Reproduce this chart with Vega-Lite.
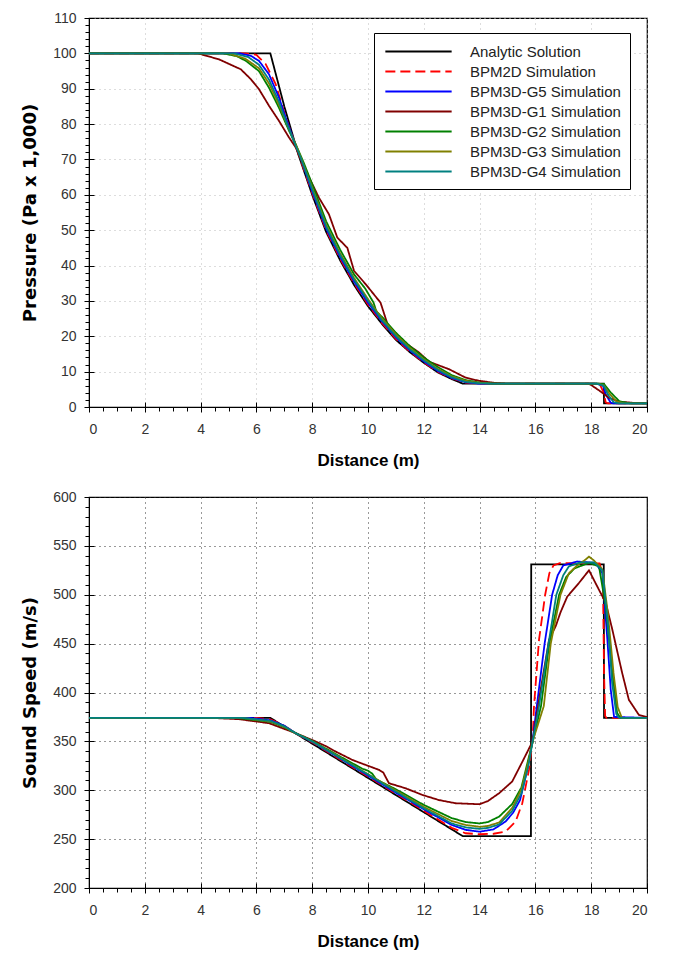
{
 "$schema": "https://vega.github.io/schema/vega-lite/v6.json",
 "background": "white",
 "padding": {"left": 21, "top": 10, "right": 5, "bottom": 5},
 "spacing": 20,
 "config": {
  "font": "Liberation Sans",
  "view": {"stroke": "#000", "strokeWidth": 1.2},
  "axis": {"labelFont": "Liberation Sans", "labelFontSize": 14, "labelColor": "#333", "titleFont": "Liberation Sans", "titleFontSize": 17, "titleFontWeight": "bold", "titleColor": "#000", "domainColor": "#000", "tickColor": "#000", "tickSize": 5, "labelPadding": 8, "gridDash": [1, 4]},
  "axisX": {"titlePadding": 16, "labelPadding": 10},
  "axisY": {"titlePadding": 13, "titleFont": "DejaVu Sans", "titleFontSize": 18},
  "line": {"strokeWidth": 1.8}
 },
 "datasets": {
  "pressure": [
   {"s":"Analytic Solution","x":0,"y":100},{"s":"Analytic Solution","x":6.5,"y":100},{"s":"Analytic Solution","x":7,"y":85},{"s":"Analytic Solution","x":7.5,"y":71.5},{"s":"Analytic Solution","x":8,"y":60},{"s":"Analytic Solution","x":8.5,"y":49.5},{"s":"Analytic Solution","x":9,"y":41.5},{"s":"Analytic Solution","x":9.5,"y":34.5},{"s":"Analytic Solution","x":10,"y":28.5},{"s":"Analytic Solution","x":10.5,"y":23.5},{"s":"Analytic Solution","x":11,"y":19},{"s":"Analytic Solution","x":11.5,"y":15.5},{"s":"Analytic Solution","x":12,"y":12.5},{"s":"Analytic Solution","x":12.5,"y":9.8},{"s":"Analytic Solution","x":13,"y":7.9},{"s":"Analytic Solution","x":13.4,"y":6.6},{"s":"Analytic Solution","x":18.45,"y":6.6},{"s":"Analytic Solution","x":18.46,"y":1},{"s":"Analytic Solution","x":20,"y":1},
   {"s":"BPM2D Simulation","x":0,"y":100},{"s":"BPM2D Simulation","x":5.6,"y":100},{"s":"BPM2D Simulation","x":6.0,"y":99.6},{"s":"BPM2D Simulation","x":6.33,"y":97},{"s":"BPM2D Simulation","x":6.69,"y":91.3},{"s":"BPM2D Simulation","x":6.93,"y":85},{"s":"BPM2D Simulation","x":7.2,"y":78.5},{"s":"BPM2D Simulation","x":7.5,"y":71.8},{"s":"BPM2D Simulation","x":8,"y":60.5},{"s":"BPM2D Simulation","x":8.5,"y":50},{"s":"BPM2D Simulation","x":9,"y":42},{"s":"BPM2D Simulation","x":9.5,"y":35},{"s":"BPM2D Simulation","x":10,"y":29},{"s":"BPM2D Simulation","x":10.5,"y":23.8},{"s":"BPM2D Simulation","x":11,"y":19.3},{"s":"BPM2D Simulation","x":11.5,"y":15.7},{"s":"BPM2D Simulation","x":12,"y":12.6},{"s":"BPM2D Simulation","x":12.5,"y":10},{"s":"BPM2D Simulation","x":13,"y":8.1},{"s":"BPM2D Simulation","x":13.5,"y":6.9},{"s":"BPM2D Simulation","x":14,"y":6.6},{"s":"BPM2D Simulation","x":18.3,"y":6.6},{"s":"BPM2D Simulation","x":18.45,"y":4},{"s":"BPM2D Simulation","x":18.52,"y":1.3},{"s":"BPM2D Simulation","x":18.6,"y":1},{"s":"BPM2D Simulation","x":20,"y":1},
   {"s":"BPM3D-G5 Simulation","x":0,"y":100},{"s":"BPM3D-G5 Simulation","x":5.4,"y":100},{"s":"BPM3D-G5 Simulation","x":5.8,"y":99.3},{"s":"BPM3D-G5 Simulation","x":6.09,"y":97.9},{"s":"BPM3D-G5 Simulation","x":6.45,"y":94.1},{"s":"BPM3D-G5 Simulation","x":6.81,"y":87.5},{"s":"BPM3D-G5 Simulation","x":7.05,"y":81.8},{"s":"BPM3D-G5 Simulation","x":7.35,"y":75.2},{"s":"BPM3D-G5 Simulation","x":7.6,"y":70},{"s":"BPM3D-G5 Simulation","x":8,"y":61},{"s":"BPM3D-G5 Simulation","x":8.5,"y":50.5},{"s":"BPM3D-G5 Simulation","x":9,"y":42.5},{"s":"BPM3D-G5 Simulation","x":9.5,"y":35.5},{"s":"BPM3D-G5 Simulation","x":10,"y":29.5},{"s":"BPM3D-G5 Simulation","x":10.5,"y":24.2},{"s":"BPM3D-G5 Simulation","x":11,"y":19.7},{"s":"BPM3D-G5 Simulation","x":11.5,"y":16},{"s":"BPM3D-G5 Simulation","x":12,"y":12.9},{"s":"BPM3D-G5 Simulation","x":12.5,"y":10.2},{"s":"BPM3D-G5 Simulation","x":13,"y":8.2},{"s":"BPM3D-G5 Simulation","x":13.5,"y":7},{"s":"BPM3D-G5 Simulation","x":14,"y":6.6},{"s":"BPM3D-G5 Simulation","x":18.2,"y":6.6},{"s":"BPM3D-G5 Simulation","x":18.43,"y":6},{"s":"BPM3D-G5 Simulation","x":18.52,"y":3.6},{"s":"BPM3D-G5 Simulation","x":18.7,"y":1.2},{"s":"BPM3D-G5 Simulation","x":18.8,"y":1},{"s":"BPM3D-G5 Simulation","x":20,"y":1},
   {"s":"BPM3D-G1 Simulation","x":0,"y":100},{"s":"BPM3D-G1 Simulation","x":3.9,"y":100},{"s":"BPM3D-G1 Simulation","x":4.66,"y":98.3},{"s":"BPM3D-G1 Simulation","x":5.44,"y":95.5},{"s":"BPM3D-G1 Simulation","x":5.8,"y":92.7},{"s":"BPM3D-G1 Simulation","x":6.09,"y":89.9},{"s":"BPM3D-G1 Simulation","x":6.45,"y":85.2},{"s":"BPM3D-G1 Simulation","x":6.81,"y":80.9},{"s":"BPM3D-G1 Simulation","x":7.17,"y":76.2},{"s":"BPM3D-G1 Simulation","x":7.41,"y":73.4},{"s":"BPM3D-G1 Simulation","x":7.7,"y":68},{"s":"BPM3D-G1 Simulation","x":8.24,"y":59.2},{"s":"BPM3D-G1 Simulation","x":8.6,"y":54.5},{"s":"BPM3D-G1 Simulation","x":8.9,"y":47.9},{"s":"BPM3D-G1 Simulation","x":9.26,"y":45},{"s":"BPM3D-G1 Simulation","x":9.5,"y":38.5},{"s":"BPM3D-G1 Simulation","x":9.92,"y":34.7},{"s":"BPM3D-G1 Simulation","x":10.45,"y":29.5},{"s":"BPM3D-G1 Simulation","x":10.7,"y":23.4},{"s":"BPM3D-G1 Simulation","x":11.23,"y":18.7},{"s":"BPM3D-G1 Simulation","x":11.83,"y":15.4},{"s":"BPM3D-G1 Simulation","x":12.19,"y":12.8},{"s":"BPM3D-G1 Simulation","x":12.9,"y":10.7},{"s":"BPM3D-G1 Simulation","x":13.5,"y":8.3},{"s":"BPM3D-G1 Simulation","x":13.98,"y":7.4},{"s":"BPM3D-G1 Simulation","x":14.58,"y":6.8},{"s":"BPM3D-G1 Simulation","x":15,"y":6.6},{"s":"BPM3D-G1 Simulation","x":17.9,"y":6.6},{"s":"BPM3D-G1 Simulation","x":18.0,"y":6.2},{"s":"BPM3D-G1 Simulation","x":18.28,"y":4.7},{"s":"BPM3D-G1 Simulation","x":18.64,"y":2.6},{"s":"BPM3D-G1 Simulation","x":19.0,"y":1.5},{"s":"BPM3D-G1 Simulation","x":19.47,"y":1.2},{"s":"BPM3D-G1 Simulation","x":20,"y":1},
   {"s":"BPM3D-G2 Simulation","x":0,"y":100},{"s":"BPM3D-G2 Simulation","x":4.8,"y":100},{"s":"BPM3D-G2 Simulation","x":5.3,"y":99.2},{"s":"BPM3D-G2 Simulation","x":5.62,"y":97.9},{"s":"BPM3D-G2 Simulation","x":6.09,"y":95},{"s":"BPM3D-G2 Simulation","x":6.45,"y":90.3},{"s":"BPM3D-G2 Simulation","x":6.81,"y":84.6},{"s":"BPM3D-G2 Simulation","x":7.17,"y":78.1},{"s":"BPM3D-G2 Simulation","x":7.41,"y":74.3},{"s":"BPM3D-G2 Simulation","x":7.7,"y":69},{"s":"BPM3D-G2 Simulation","x":8,"y":63},{"s":"BPM3D-G2 Simulation","x":8.5,"y":52.5},{"s":"BPM3D-G2 Simulation","x":9,"y":44.5},{"s":"BPM3D-G2 Simulation","x":9.5,"y":37.5},{"s":"BPM3D-G2 Simulation","x":9.9,"y":33.5},{"s":"BPM3D-G2 Simulation","x":10.2,"y":29.5},{"s":"BPM3D-G2 Simulation","x":10.3,"y":27},{"s":"BPM3D-G2 Simulation","x":10.5,"y":25.5},{"s":"BPM3D-G2 Simulation","x":11,"y":21},{"s":"BPM3D-G2 Simulation","x":11.5,"y":17.2},{"s":"BPM3D-G2 Simulation","x":12,"y":14},{"s":"BPM3D-G2 Simulation","x":12.5,"y":11.3},{"s":"BPM3D-G2 Simulation","x":13,"y":9},{"s":"BPM3D-G2 Simulation","x":13.5,"y":7.6},{"s":"BPM3D-G2 Simulation","x":14,"y":6.9},{"s":"BPM3D-G2 Simulation","x":14.5,"y":6.6},{"s":"BPM3D-G2 Simulation","x":18.2,"y":6.6},{"s":"BPM3D-G2 Simulation","x":18.46,"y":6.5},{"s":"BPM3D-G2 Simulation","x":18.7,"y":4.1},{"s":"BPM3D-G2 Simulation","x":19.0,"y":1.7},{"s":"BPM3D-G2 Simulation","x":19.3,"y":1.1},{"s":"BPM3D-G2 Simulation","x":19.5,"y":1},{"s":"BPM3D-G2 Simulation","x":20,"y":1},
   {"s":"BPM3D-G3 Simulation","x":0,"y":100},{"s":"BPM3D-G3 Simulation","x":5.0,"y":100},{"s":"BPM3D-G3 Simulation","x":5.6,"y":98.5},{"s":"BPM3D-G3 Simulation","x":6.09,"y":95.8},{"s":"BPM3D-G3 Simulation","x":6.45,"y":91.5},{"s":"BPM3D-G3 Simulation","x":6.81,"y":85.5},{"s":"BPM3D-G3 Simulation","x":7.17,"y":78.5},{"s":"BPM3D-G3 Simulation","x":7.5,"y":72.5},{"s":"BPM3D-G3 Simulation","x":8,"y":62},{"s":"BPM3D-G3 Simulation","x":8.5,"y":51.5},{"s":"BPM3D-G3 Simulation","x":9,"y":43.5},{"s":"BPM3D-G3 Simulation","x":9.5,"y":36.5},{"s":"BPM3D-G3 Simulation","x":10,"y":30.5},{"s":"BPM3D-G3 Simulation","x":10.5,"y":25},{"s":"BPM3D-G3 Simulation","x":11,"y":20.5},{"s":"BPM3D-G3 Simulation","x":11.5,"y":16.7},{"s":"BPM3D-G3 Simulation","x":12,"y":13.5},{"s":"BPM3D-G3 Simulation","x":12.5,"y":10.8},{"s":"BPM3D-G3 Simulation","x":13,"y":8.7},{"s":"BPM3D-G3 Simulation","x":13.5,"y":7.4},{"s":"BPM3D-G3 Simulation","x":14,"y":6.8},{"s":"BPM3D-G3 Simulation","x":14.5,"y":6.6},{"s":"BPM3D-G3 Simulation","x":18.2,"y":6.6},{"s":"BPM3D-G3 Simulation","x":18.45,"y":6.2},{"s":"BPM3D-G3 Simulation","x":18.65,"y":3.8},{"s":"BPM3D-G3 Simulation","x":18.9,"y":1.6},{"s":"BPM3D-G3 Simulation","x":19.2,"y":1},{"s":"BPM3D-G3 Simulation","x":20,"y":1},
   {"s":"BPM3D-G4 Simulation","x":0,"y":100},{"s":"BPM3D-G4 Simulation","x":5.2,"y":100},{"s":"BPM3D-G4 Simulation","x":5.7,"y":99},{"s":"BPM3D-G4 Simulation","x":6.09,"y":96.8},{"s":"BPM3D-G4 Simulation","x":6.45,"y":92.6},{"s":"BPM3D-G4 Simulation","x":6.81,"y":86.3},{"s":"BPM3D-G4 Simulation","x":7.1,"y":80},{"s":"BPM3D-G4 Simulation","x":7.4,"y":74},{"s":"BPM3D-G4 Simulation","x":7.6,"y":70.2},{"s":"BPM3D-G4 Simulation","x":8,"y":61.5},{"s":"BPM3D-G4 Simulation","x":8.5,"y":51},{"s":"BPM3D-G4 Simulation","x":9,"y":43},{"s":"BPM3D-G4 Simulation","x":9.5,"y":36},{"s":"BPM3D-G4 Simulation","x":10,"y":30},{"s":"BPM3D-G4 Simulation","x":10.5,"y":24.5},{"s":"BPM3D-G4 Simulation","x":11,"y":20},{"s":"BPM3D-G4 Simulation","x":11.5,"y":16.3},{"s":"BPM3D-G4 Simulation","x":12,"y":13.2},{"s":"BPM3D-G4 Simulation","x":12.5,"y":10.5},{"s":"BPM3D-G4 Simulation","x":13,"y":8.4},{"s":"BPM3D-G4 Simulation","x":13.5,"y":7.1},{"s":"BPM3D-G4 Simulation","x":14,"y":6.7},{"s":"BPM3D-G4 Simulation","x":14.5,"y":6.6},{"s":"BPM3D-G4 Simulation","x":18.2,"y":6.6},{"s":"BPM3D-G4 Simulation","x":18.45,"y":6},{"s":"BPM3D-G4 Simulation","x":18.6,"y":3.5},{"s":"BPM3D-G4 Simulation","x":18.8,"y":1.4},{"s":"BPM3D-G4 Simulation","x":19,"y":1},{"s":"BPM3D-G4 Simulation","x":20,"y":1}
  ],
  "speed": [
   {"s":"Analytic Solution","x":0,"y":374},{"s":"Analytic Solution","x":6.5,"y":374},{"s":"Analytic Solution","x":13.4,"y":253},{"s":"Analytic Solution","x":15.84,"y":253},{"s":"Analytic Solution","x":15.85,"y":531},{"s":"Analytic Solution","x":18.45,"y":531},{"s":"Analytic Solution","x":18.46,"y":374},{"s":"Analytic Solution","x":20,"y":374},
   {"s":"BPM2D Simulation","x":0,"y":374},{"s":"BPM2D Simulation","x":6.0,"y":374},{"s":"BPM2D Simulation","x":6.5,"y":372.5},{"s":"BPM2D Simulation","x":7,"y":366},{"s":"BPM2D Simulation","x":7.4,"y":358.5},{"s":"BPM2D Simulation","x":8,"y":349},{"s":"BPM2D Simulation","x":9,"y":331.5},{"s":"BPM2D Simulation","x":10,"y":314},{"s":"BPM2D Simulation","x":11,"y":296.5},{"s":"BPM2D Simulation","x":12,"y":279},{"s":"BPM2D Simulation","x":13,"y":261.5},{"s":"BPM2D Simulation","x":13.5,"y":256},{"s":"BPM2D Simulation","x":14,"y":255},{"s":"BPM2D Simulation","x":14.5,"y":255.5},{"s":"BPM2D Simulation","x":14.93,"y":257.6},{"s":"BPM2D Simulation","x":15.29,"y":268},{"s":"BPM2D Simulation","x":15.53,"y":286.7},{"s":"BPM2D Simulation","x":15.77,"y":320.8},{"s":"BPM2D Simulation","x":15.9,"y":351},{"s":"BPM2D Simulation","x":15.95,"y":386},{"s":"BPM2D Simulation","x":16.13,"y":454},{"s":"BPM2D Simulation","x":16.35,"y":500},{"s":"BPM2D Simulation","x":16.5,"y":522},{"s":"BPM2D Simulation","x":16.65,"y":530},{"s":"BPM2D Simulation","x":16.9,"y":532.5},{"s":"BPM2D Simulation","x":18.3,"y":532},{"s":"BPM2D Simulation","x":18.42,"y":520},{"s":"BPM2D Simulation","x":18.46,"y":420},{"s":"BPM2D Simulation","x":18.5,"y":376},{"s":"BPM2D Simulation","x":18.55,"y":374},{"s":"BPM2D Simulation","x":20,"y":374},
   {"s":"BPM3D-G5 Simulation","x":0,"y":374},{"s":"BPM3D-G5 Simulation","x":5.8,"y":374},{"s":"BPM3D-G5 Simulation","x":6.5,"y":371.5},{"s":"BPM3D-G5 Simulation","x":7,"y":366},{"s":"BPM3D-G5 Simulation","x":7.4,"y":358.5},{"s":"BPM3D-G5 Simulation","x":8,"y":349.5},{"s":"BPM3D-G5 Simulation","x":9,"y":332.5},{"s":"BPM3D-G5 Simulation","x":10,"y":315},{"s":"BPM3D-G5 Simulation","x":11,"y":297.5},{"s":"BPM3D-G5 Simulation","x":12,"y":280.5},{"s":"BPM3D-G5 Simulation","x":13,"y":264.5},{"s":"BPM3D-G5 Simulation","x":13.5,"y":259.5},{"s":"BPM3D-G5 Simulation","x":14,"y":257.6},{"s":"BPM3D-G5 Simulation","x":14.5,"y":260},{"s":"BPM3D-G5 Simulation","x":14.93,"y":268},{"s":"BPM3D-G5 Simulation","x":15.2,"y":277},{"s":"BPM3D-G5 Simulation","x":15.45,"y":290},{"s":"BPM3D-G5 Simulation","x":15.65,"y":314},{"s":"BPM3D-G5 Simulation","x":15.9,"y":351},{"s":"BPM3D-G5 Simulation","x":16.05,"y":386},{"s":"BPM3D-G5 Simulation","x":16.33,"y":450},{"s":"BPM3D-G5 Simulation","x":16.6,"y":500},{"s":"BPM3D-G5 Simulation","x":16.8,"y":520},{"s":"BPM3D-G5 Simulation","x":17.0,"y":530},{"s":"BPM3D-G5 Simulation","x":17.5,"y":534},{"s":"BPM3D-G5 Simulation","x":18.16,"y":532.5},{"s":"BPM3D-G5 Simulation","x":18.4,"y":522},{"s":"BPM3D-G5 Simulation","x":18.58,"y":454},{"s":"BPM3D-G5 Simulation","x":18.7,"y":403},{"s":"BPM3D-G5 Simulation","x":18.82,"y":375},{"s":"BPM3D-G5 Simulation","x":20,"y":374},
   {"s":"BPM3D-G1 Simulation","x":0,"y":374},{"s":"BPM3D-G1 Simulation","x":4.4,"y":374},{"s":"BPM3D-G1 Simulation","x":5.38,"y":372.7},{"s":"BPM3D-G1 Simulation","x":6.45,"y":368.6},{"s":"BPM3D-G1 Simulation","x":7.41,"y":358.4},{"s":"BPM3D-G1 Simulation","x":8.13,"y":349.8},{"s":"BPM3D-G1 Simulation","x":8.5,"y":345},{"s":"BPM3D-G1 Simulation","x":8.84,"y":339.6},{"s":"BPM3D-G1 Simulation","x":9.44,"y":331},{"s":"BPM3D-G1 Simulation","x":10.0,"y":325},{"s":"BPM3D-G1 Simulation","x":10.4,"y":320.8},{"s":"BPM3D-G1 Simulation","x":10.55,"y":318},{"s":"BPM3D-G1 Simulation","x":10.75,"y":307.2},{"s":"BPM3D-G1 Simulation","x":11.35,"y":302},{"s":"BPM3D-G1 Simulation","x":11.95,"y":295.2},{"s":"BPM3D-G1 Simulation","x":12.54,"y":290},{"s":"BPM3D-G1 Simulation","x":13.14,"y":286.7},{"s":"BPM3D-G1 Simulation","x":14.0,"y":285.7},{"s":"BPM3D-G1 Simulation","x":14.3,"y":289},{"s":"BPM3D-G1 Simulation","x":14.7,"y":297},{"s":"BPM3D-G1 Simulation","x":15.17,"y":309},{"s":"BPM3D-G1 Simulation","x":15.53,"y":329},{"s":"BPM3D-G1 Simulation","x":15.9,"y":350},{"s":"BPM3D-G1 Simulation","x":16.2,"y":405},{"s":"BPM3D-G1 Simulation","x":16.49,"y":454},{"s":"BPM3D-G1 Simulation","x":16.73,"y":468},{"s":"BPM3D-G1 Simulation","x":16.9,"y":482},{"s":"BPM3D-G1 Simulation","x":17.14,"y":498},{"s":"BPM3D-G1 Simulation","x":17.56,"y":512},{"s":"BPM3D-G1 Simulation","x":17.92,"y":525},{"s":"BPM3D-G1 Simulation","x":18.1,"y":515},{"s":"BPM3D-G1 Simulation","x":18.28,"y":505},{"s":"BPM3D-G1 Simulation","x":18.52,"y":492},{"s":"BPM3D-G1 Simulation","x":18.76,"y":464},{"s":"BPM3D-G1 Simulation","x":19.11,"y":420},{"s":"BPM3D-G1 Simulation","x":19.35,"y":392.5},{"s":"BPM3D-G1 Simulation","x":19.71,"y":377},{"s":"BPM3D-G1 Simulation","x":20,"y":375},
   {"s":"BPM3D-G2 Simulation","x":0,"y":374},{"s":"BPM3D-G2 Simulation","x":5.3,"y":374},{"s":"BPM3D-G2 Simulation","x":6.5,"y":370},{"s":"BPM3D-G2 Simulation","x":7,"y":364.5},{"s":"BPM3D-G2 Simulation","x":7.4,"y":358.5},{"s":"BPM3D-G2 Simulation","x":8,"y":350.5},{"s":"BPM3D-G2 Simulation","x":9,"y":334.5},{"s":"BPM3D-G2 Simulation","x":9.8,"y":322},{"s":"BPM3D-G2 Simulation","x":10.0,"y":320},{"s":"BPM3D-G2 Simulation","x":10.15,"y":317},{"s":"BPM3D-G2 Simulation","x":10.3,"y":311},{"s":"BPM3D-G2 Simulation","x":11,"y":301},{"s":"BPM3D-G2 Simulation","x":12,"y":285},{"s":"BPM3D-G2 Simulation","x":13,"y":271.5},{"s":"BPM3D-G2 Simulation","x":13.5,"y":267.5},{"s":"BPM3D-G2 Simulation","x":14,"y":266},{"s":"BPM3D-G2 Simulation","x":14.3,"y":267.5},{"s":"BPM3D-G2 Simulation","x":14.7,"y":273},{"s":"BPM3D-G2 Simulation","x":15.17,"y":286},{"s":"BPM3D-G2 Simulation","x":15.5,"y":303},{"s":"BPM3D-G2 Simulation","x":15.75,"y":332},{"s":"BPM3D-G2 Simulation","x":15.9,"y":349},{"s":"BPM3D-G2 Simulation","x":16.2,"y":386},{"s":"BPM3D-G2 Simulation","x":16.5,"y":450},{"s":"BPM3D-G2 Simulation","x":16.85,"y":500},{"s":"BPM3D-G2 Simulation","x":17.1,"y":518},{"s":"BPM3D-G2 Simulation","x":17.4,"y":527},{"s":"BPM3D-G2 Simulation","x":17.92,"y":532.6},{"s":"BPM3D-G2 Simulation","x":18.28,"y":529},{"s":"BPM3D-G2 Simulation","x":18.52,"y":488},{"s":"BPM3D-G2 Simulation","x":18.76,"y":420},{"s":"BPM3D-G2 Simulation","x":18.93,"y":379},{"s":"BPM3D-G2 Simulation","x":19.05,"y":374},{"s":"BPM3D-G2 Simulation","x":20,"y":374},
   {"s":"BPM3D-G3 Simulation","x":0,"y":374},{"s":"BPM3D-G3 Simulation","x":5.5,"y":374},{"s":"BPM3D-G3 Simulation","x":6.5,"y":370.5},{"s":"BPM3D-G3 Simulation","x":7,"y":365},{"s":"BPM3D-G3 Simulation","x":7.4,"y":358.5},{"s":"BPM3D-G3 Simulation","x":8,"y":350},{"s":"BPM3D-G3 Simulation","x":9,"y":333.5},{"s":"BPM3D-G3 Simulation","x":10,"y":316.5},{"s":"BPM3D-G3 Simulation","x":11,"y":299.5},{"s":"BPM3D-G3 Simulation","x":12,"y":283},{"s":"BPM3D-G3 Simulation","x":13,"y":268.5},{"s":"BPM3D-G3 Simulation","x":13.5,"y":264.5},{"s":"BPM3D-G3 Simulation","x":14,"y":262.6},{"s":"BPM3D-G3 Simulation","x":14.3,"y":263.5},{"s":"BPM3D-G3 Simulation","x":14.7,"y":267},{"s":"BPM3D-G3 Simulation","x":15.17,"y":282},{"s":"BPM3D-G3 Simulation","x":15.5,"y":301},{"s":"BPM3D-G3 Simulation","x":15.75,"y":329},{"s":"BPM3D-G3 Simulation","x":15.9,"y":350},{"s":"BPM3D-G3 Simulation","x":16.3,"y":386},{"s":"BPM3D-G3 Simulation","x":16.55,"y":450},{"s":"BPM3D-G3 Simulation","x":16.9,"y":500},{"s":"BPM3D-G3 Simulation","x":17.2,"y":522},{"s":"BPM3D-G3 Simulation","x":17.5,"y":530},{"s":"BPM3D-G3 Simulation","x":17.8,"y":536},{"s":"BPM3D-G3 Simulation","x":17.92,"y":539},{"s":"BPM3D-G3 Simulation","x":18.1,"y":535},{"s":"BPM3D-G3 Simulation","x":18.4,"y":526},{"s":"BPM3D-G3 Simulation","x":18.6,"y":480},{"s":"BPM3D-G3 Simulation","x":18.8,"y":420},{"s":"BPM3D-G3 Simulation","x":18.95,"y":385},{"s":"BPM3D-G3 Simulation","x":19.1,"y":374},{"s":"BPM3D-G3 Simulation","x":20,"y":374},
   {"s":"BPM3D-G4 Simulation","x":0,"y":374},{"s":"BPM3D-G4 Simulation","x":5.5,"y":374},{"s":"BPM3D-G4 Simulation","x":6.5,"y":371},{"s":"BPM3D-G4 Simulation","x":7,"y":365.5},{"s":"BPM3D-G4 Simulation","x":7.4,"y":358.5},{"s":"BPM3D-G4 Simulation","x":8,"y":350},{"s":"BPM3D-G4 Simulation","x":9,"y":333},{"s":"BPM3D-G4 Simulation","x":10,"y":316},{"s":"BPM3D-G4 Simulation","x":11,"y":298.5},{"s":"BPM3D-G4 Simulation","x":12,"y":281.5},{"s":"BPM3D-G4 Simulation","x":13,"y":266},{"s":"BPM3D-G4 Simulation","x":13.5,"y":262},{"s":"BPM3D-G4 Simulation","x":14,"y":260.5},{"s":"BPM3D-G4 Simulation","x":14.3,"y":261.5},{"s":"BPM3D-G4 Simulation","x":14.7,"y":265},{"s":"BPM3D-G4 Simulation","x":15.17,"y":279},{"s":"BPM3D-G4 Simulation","x":15.5,"y":297},{"s":"BPM3D-G4 Simulation","x":15.75,"y":325},{"s":"BPM3D-G4 Simulation","x":15.9,"y":350},{"s":"BPM3D-G4 Simulation","x":16.13,"y":386},{"s":"BPM3D-G4 Simulation","x":16.47,"y":450},{"s":"BPM3D-G4 Simulation","x":16.75,"y":500},{"s":"BPM3D-G4 Simulation","x":17.0,"y":520},{"s":"BPM3D-G4 Simulation","x":17.2,"y":529},{"s":"BPM3D-G4 Simulation","x":17.6,"y":533},{"s":"BPM3D-G4 Simulation","x":18.1,"y":533},{"s":"BPM3D-G4 Simulation","x":18.4,"y":525},{"s":"BPM3D-G4 Simulation","x":18.6,"y":470},{"s":"BPM3D-G4 Simulation","x":18.75,"y":410},{"s":"BPM3D-G4 Simulation","x":18.9,"y":378},{"s":"BPM3D-G4 Simulation","x":19.0,"y":374},{"s":"BPM3D-G4 Simulation","x":20,"y":374}
  ]
 },
 "vconcat": [
  {
   "width": 558, "height": 389,
   "data": {"name": "pressure"},
   "resolve": {"axis": {"x": "independent", "y": "independent"}},
   "layer": [
    {
     "mark": {"type": "line", "strokeWidth": 1.8},
     "encoding": {
      "x": {"field": "x", "type": "quantitative", "scale": {"domain": [0, 20], "nice": false}, "axis": {"orient": "bottom", "title": "Distance (m)", "values": [0,2,4,6,8,10,12,14,16,18,20], "grid": true, "gridColor": "#bbbbbb"}},
      "y": {"field": "y", "type": "quantitative", "scale": {"domain": [0, 110], "nice": false}, "axis": {"orient": "left", "title": "Pressure (Pa x 1,000)", "values": [0,10,20,30,40,50,60,70,80,90,100,110], "grid": true, "gridColor": "#bbbbbb"}},
      "color": {"field": "s", "type": "nominal", "sort": null,
       "scale": {"domain": ["Analytic Solution","BPM2D Simulation","BPM3D-G5 Simulation","BPM3D-G1 Simulation","BPM3D-G2 Simulation","BPM3D-G3 Simulation","BPM3D-G4 Simulation"], "range": ["#000000","#ff0000","#0000ff","#800000","#008000","#808000","#008080"]},
       "legend": {"orient": "none", "legendX": 285, "legendY": 15, "direction": "vertical", "title": null, "strokeColor": "#000", "fillColor": "#fff", "padding": 9, "symbolType": "M-3.9,0H3.9", "symbolSize": 289, "symbolStrokeWidth": 2, "symbolOffset": 26, "labelOffset": 42, "labelFontSize": 15, "labelColor": "#222", "labelFont": "Liberation Sans", "rowPadding": 2}},
      "strokeDash": {"field": "s", "type": "nominal", "sort": null,
       "scale": {"domain": ["Analytic Solution","BPM2D Simulation","BPM3D-G5 Simulation","BPM3D-G1 Simulation","BPM3D-G2 Simulation","BPM3D-G3 Simulation","BPM3D-G4 Simulation"], "range": [[1,0],[10,5],[1,0],[1,0],[1,0],[1,0],[1,0]]},
       "legend": {"orient": "none", "legendX": 285, "legendY": 15, "direction": "vertical", "title": null, "strokeColor": "#000", "fillColor": "#fff", "padding": 9, "symbolType": "M-3.9,0H3.9", "symbolSize": 289, "symbolStrokeWidth": 2, "symbolOffset": 26, "labelOffset": 42, "labelFontSize": 15, "labelColor": "#222", "labelFont": "Liberation Sans", "rowPadding": 2}}
     }
    },
    {
     "mark": {"type": "point", "opacity": 0},
     "encoding": {
      "x": {"field": "x", "type": "quantitative", "scale": {"domain": [0, 20], "nice": false}, "axis": {"orient": "bottom", "title": null, "labels": false, "grid": false, "domain": false, "tickSize": 4, "tickColor": "#000", "values": [0,0.5,1,1.5,2,2.5,3,3.5,4,4.5,5,5.5,6,6.5,7,7.5,8,8.5,9,9.5,10,10.5,11,11.5,12,12.5,13,13.5,14,14.5,15,15.5,16,16.5,17,17.5,18,18.5,19,19.5,20]}},
      "y": {"field": "y", "type": "quantitative", "scale": {"domain": [0, 110], "nice": false}, "axis": {"orient": "left", "title": null, "labels": false, "grid": false, "domain": false, "tickSize": 4, "tickColor": "#000", "values": [0,2,4,6,8,10,12,14,16,18,20,22,24,26,28,30,32,34,36,38,40,42,44,46,48,50,52,54,56,58,60,62,64,66,68,70,72,74,76,78,80,82,84,86,88,90,92,94,96,98,100,102,104,106,108,110]}}
     }
    },
    {
     "mark": {"type": "point", "opacity": 0},
     "encoding": {
      "x": {"field": "x", "type": "quantitative", "scale": {"domain": [0, 20], "nice": false}, "axis": {"orient": "bottom", "title": null, "labels": false, "grid": false, "domain": false, "tickSize": -5, "values": [0,2,4,6,8,10,12,14,16,18,20]}},
      "y": {"field": "y", "type": "quantitative", "scale": {"domain": [0, 110], "nice": false}, "axis": {"orient": "left", "title": null, "labels": false, "grid": false, "domain": false, "tickSize": -5, "values": [0,10,20,30,40,50,60,70,80,90,100,110]}}
     }
    }
   ]
  },
  {
   "width": 558, "height": 391,
   "data": {"name": "speed"},
   "resolve": {"axis": {"x": "independent", "y": "independent"}},
   "layer": [
    {
     "mark": {"type": "line", "strokeWidth": 1.8},
     "encoding": {
      "x": {"field": "x", "type": "quantitative", "scale": {"domain": [0, 20], "nice": false}, "axis": {"orient": "bottom", "title": "Distance (m)", "values": [0,2,4,6,8,10,12,14,16,18,20], "grid": true, "gridColor": "#333333"}},
      "y": {"field": "y", "type": "quantitative", "scale": {"domain": [200, 600], "nice": false}, "axis": {"orient": "left", "title": "Sound Speed (m/s)", "values": [200,250,300,350,400,450,500,550,600], "grid": true, "gridColor": "#333333"}},
      "color": {"field": "s", "type": "nominal", "sort": null,
       "scale": {"domain": ["Analytic Solution","BPM2D Simulation","BPM3D-G5 Simulation","BPM3D-G1 Simulation","BPM3D-G2 Simulation","BPM3D-G3 Simulation","BPM3D-G4 Simulation"], "range": ["#000000","#ff0000","#0000ff","#800000","#008000","#808000","#008080"]},
       "legend": {"orient": "none", "legendX": 12, "legendY": 9, "direction": "vertical", "title": null, "strokeColor": "#000", "fillColor": "#fff", "padding": 9, "symbolType": "M-3.9,0H3.9", "symbolSize": 289, "symbolStrokeWidth": 2, "symbolOffset": 26, "labelOffset": 42, "labelFontSize": 15, "labelColor": "#222", "labelFont": "Liberation Sans", "rowPadding": 2}},
      "strokeDash": {"field": "s", "type": "nominal", "sort": null,
       "scale": {"domain": ["Analytic Solution","BPM2D Simulation","BPM3D-G5 Simulation","BPM3D-G1 Simulation","BPM3D-G2 Simulation","BPM3D-G3 Simulation","BPM3D-G4 Simulation"], "range": [[1,0],[10,5],[1,0],[1,0],[1,0],[1,0],[1,0]]},
       "legend": {"orient": "none", "legendX": 12, "legendY": 9, "direction": "vertical", "title": null, "strokeColor": "#000", "fillColor": "#fff", "padding": 9, "symbolType": "M-3.9,0H3.9", "symbolSize": 289, "symbolStrokeWidth": 2, "symbolOffset": 26, "labelOffset": 42, "labelFontSize": 15, "labelColor": "#222", "labelFont": "Liberation Sans", "rowPadding": 2}}
     }
    },
    {
     "mark": {"type": "point", "opacity": 0},
     "encoding": {
      "x": {"field": "x", "type": "quantitative", "scale": {"domain": [0, 20], "nice": false}, "axis": {"orient": "bottom", "title": null, "labels": false, "grid": false, "domain": false, "tickSize": 4, "tickColor": "#000", "values": [0,0.5,1,1.5,2,2.5,3,3.5,4,4.5,5,5.5,6,6.5,7,7.5,8,8.5,9,9.5,10,10.5,11,11.5,12,12.5,13,13.5,14,14.5,15,15.5,16,16.5,17,17.5,18,18.5,19,19.5,20]}},
      "y": {"field": "y", "type": "quantitative", "scale": {"domain": [200, 600], "nice": false}, "axis": {"orient": "left", "title": null, "labels": false, "grid": false, "domain": false, "tickSize": 4, "tickColor": "#000", "values": [200,210,220,230,240,250,260,270,280,290,300,310,320,330,340,350,360,370,380,390,400,410,420,430,440,450,460,470,480,490,500,510,520,530,540,550,560,570,580,590,600]}}
     }
    },
    {
     "mark": {"type": "point", "opacity": 0},
     "encoding": {
      "x": {"field": "x", "type": "quantitative", "scale": {"domain": [0, 20], "nice": false}, "axis": {"orient": "bottom", "title": null, "labels": false, "grid": false, "domain": false, "tickSize": -5, "values": [0,2,4,6,8,10,12,14,16,18,20]}},
      "y": {"field": "y", "type": "quantitative", "scale": {"domain": [200, 600], "nice": false}, "axis": {"orient": "left", "title": null, "labels": false, "grid": false, "domain": false, "tickSize": -5, "values": [200,250,300,350,400,450,500,550,600]}}
     }
    }
   ]
  }
 ]
}
